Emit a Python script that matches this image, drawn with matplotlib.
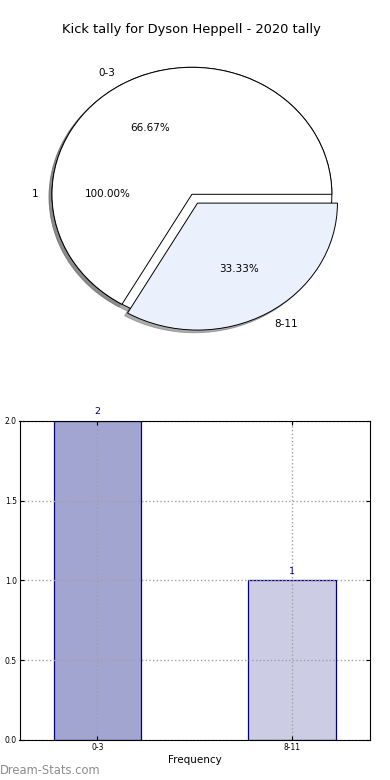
import matplotlib
matplotlib.use("Agg")
import matplotlib.pyplot as plt

# pie data
whole_labels = ["1"]
whole_values = [1]
range_labels = ["0-3", "8-11"]
range_values = [2, 1]

# bar data
bar_labels = ["0-3", "8-11"]
bar_counts = [2, 1]
yticks = [0.0, 0.5, 1.0, 1.5, 2.0]

fig = plt.figure(figsize=(3.9, 7.8), dpi=100)

# top: pie
ax1 = fig.add_axes([0.0436, 0.5474, 0.897, 0.407])
wedge_style = {"edgecolor": "black", "linewidth": 0.7}
shadow_style = {"ox": -0.015, "oy": -0.015, "color": "#777777", "alpha": 0.6}
ax1.pie(whole_values, labels=whole_labels, autopct="%1.2f%%", colors=["white"],
        shadow=shadow_style, startangle=0, wedgeprops=wedge_style,
        textprops={"fontsize": 7.5})
ax1.pie(range_values, labels=range_labels, autopct="%1.2f%%",
        colors=["white", "#eaf0fc"], explode=[0, 0.08], startangle=0,
        shadow=shadow_style, wedgeprops=wedge_style, textprops={"fontsize": 7.5})
ax1.set_aspect("auto")
ax1.set_xlim(-1.25, 1.25)
ax1.set_ylim(-1.25, 1.25)
ax1.set_title("Kick tally for Dyson Heppell - 2020 tally", fontsize=9.4, pad=1)

# bottom: bars
ax2 = fig.add_axes([0.05, 0.0513, 0.899, 0.409])
pos = range(len(bar_labels))
bars = ax2.bar(pos, bar_counts, width=0.45, color=["#a3a5d1", "#cccde5"],
               edgecolor="navy", linewidth=0.9, zorder=2)
for b, v in zip(bars, bar_counts):
    ax2.text(b.get_x() + b.get_width() / 2, v + 0.03, str(v), ha="center",
             va="bottom", color="navy", fontsize=6.8)
ax2.set_xlim(-0.4, 1.4)
ax2.set_ylim(0, 2)
ax2.set_yticks(yticks)
ax2.set_yticklabels([f"{t:.1f}" for t in yticks])
ax2.set_xticks(list(pos))
ax2.set_xticklabels(bar_labels)
ax2.tick_params(labelsize=5.5, direction="in", top=True, right=True, length=3, pad=2)
ax2.grid(True, linestyle=":", color="#a0a0a0", linewidth=1.0, zorder=3)
ax2.set_axisbelow(False)
ax2.set_xlabel("Frequency", fontsize=7.5, labelpad=2)
for s in ax2.spines.values():
    s.set_linewidth(0.8)
    s.set_zorder(4)

fig.text(0.0, 0.0128, "Dream-Stats.com", fontsize=8.3, color="#8c8c8c",
         ha="left", va="center")

fig.savefig("out.png", dpi=100)
